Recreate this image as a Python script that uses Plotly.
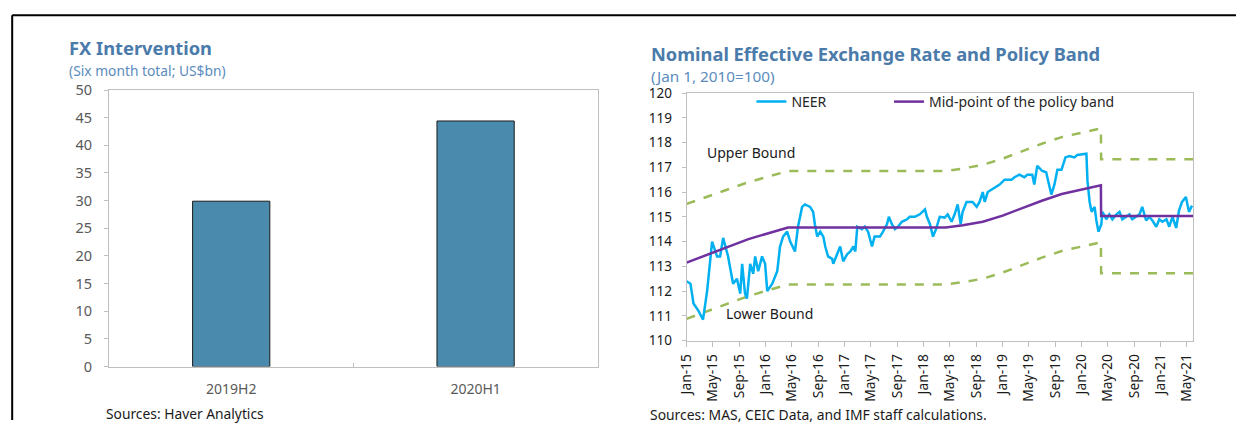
import plotly.graph_objects as go
from plotly.subplots import make_subplots

# ---------------- Data ----------------
# Left: FX intervention (six-month total, US$bn)
fx_periods = ["2019H2", "2020H1"]
fx_values = [29.9, 44.4]

# Right: NEER (Jan 1, 2010 = 100)
neer_dates = [
    "2015-01-01", "2015-01-19", "2015-02-02", "2015-02-25", "2015-03-18", "2015-04-06",
    "2015-04-29", "2015-05-22", "2015-06-05", "2015-06-19", "2015-07-12", "2015-08-04",
    "2015-08-22", "2015-09-06", "2015-09-15", "2015-09-28", "2015-10-07", "2015-10-22",
    "2015-11-05", "2015-11-14", "2015-11-28", "2015-12-16", "2015-12-30", "2016-01-09",
    "2016-02-01", "2016-02-24", "2016-03-08", "2016-03-22", "2016-04-10", "2016-04-24",
    "2016-05-16", "2016-05-30", "2016-06-18", "2016-07-01", "2016-07-25", "2016-08-08",
    "2016-08-16", "2016-08-27", "2016-09-10", "2016-09-24", "2016-10-03", "2016-10-16",
    "2016-11-04", "2016-11-09", "2016-11-27", "2016-12-11", "2016-12-25", "2017-01-13",
    "2017-01-27", "2017-02-10", "2017-02-19", "2017-02-28", "2017-03-21", "2017-04-04",
    "2017-04-19", "2017-05-07", "2017-05-19", "2017-06-13", "2017-06-27", "2017-07-15",
    "2017-07-24", "2017-08-07", "2017-08-21", "2017-09-04", "2017-09-22", "2017-10-16",
    "2017-10-28", "2017-11-21", "2017-12-14", "2018-01-07", "2018-01-16", "2018-01-30",
    "2018-02-13", "2018-02-27", "2018-03-16", "2018-04-08", "2018-04-22", "2018-05-10",
    "2018-05-24", "2018-06-07", "2018-06-21", "2018-06-30", "2018-07-18", "2018-08-01",
    "2018-08-15", "2018-09-03", "2018-09-16", "2018-10-01", "2018-10-10", "2018-10-24",
    "2018-11-12", "2018-11-25", "2018-12-18", "2019-01-10", "2019-01-25", "2019-02-11",
    "2019-02-25", "2019-03-19", "2019-04-11", "2019-04-25", "2019-05-18", "2019-05-27",
    "2019-06-10", "2019-07-03", "2019-07-21", "2019-08-14", "2019-08-28", "2019-09-11",
    "2019-09-30", "2019-10-18", "2019-11-06", "2019-11-28", "2019-12-12", "2020-01-05",
    "2020-01-23", "2020-01-28", "2020-02-07", "2020-02-16", "2020-03-01", "2020-03-09",
    "2020-03-19", "2020-04-01", "2020-04-06", "2020-04-24", "2020-05-08", "2020-05-22",
    "2020-06-10", "2020-06-24", "2020-07-07", "2020-07-25", "2020-08-09", "2020-08-22",
    "2020-09-10", "2020-09-24", "2020-10-07", "2020-10-25", "2020-11-09", "2020-11-23",
    "2020-12-11", "2020-12-25", "2021-01-08", "2021-01-27", "2021-02-09", "2021-02-24",
    "2021-03-13", "2021-03-26", "2021-04-09", "2021-04-27", "2021-05-11", "2021-05-25",
]
neer_values = [
    112.4, 112.3, 111.5, 111.2, 110.85, 112.0,
    114.0, 113.4, 113.4, 114.15, 113.4, 112.3,
    112.5, 111.9, 113.1, 111.9, 111.7, 113.1,
    112.7, 113.4, 112.8, 113.4, 113.1, 112.0,
    112.3, 112.8, 113.8, 114.2, 114.4, 114.0,
    113.6, 114.6, 115.4, 115.5, 115.4, 115.2,
    114.7, 114.2, 114.4, 114.2, 113.8, 113.4,
    113.3, 113.1, 113.5, 113.8, 113.2, 113.5,
    113.6, 113.8, 113.6, 114.6, 114.5, 114.6,
    114.4, 113.8, 114.2, 114.2, 114.4, 114.7,
    115.0, 114.7, 114.5, 114.6, 114.8, 114.9,
    115.0, 115.0, 115.1, 115.3, 115.0, 114.7,
    114.2, 114.5, 115.0, 114.97, 115.1, 114.8,
    115.1, 115.5, 114.7, 115.2, 115.6, 115.6,
    115.6, 115.4, 115.6, 116.0, 115.6, 116.0,
    116.1, 116.2, 116.3, 116.5, 116.5, 116.5,
    116.6, 116.7, 116.6, 116.7, 116.7, 116.3,
    117.06, 116.85, 116.8, 115.9, 116.3, 116.9,
    116.9, 117.4, 117.45, 117.4, 117.5, 117.54,
    117.55, 116.45, 115.6, 115.2, 115.4, 114.85,
    114.4, 114.7, 115.2, 114.9, 115.1, 114.9,
    115.1, 115.2, 114.9, 115.0, 115.1, 114.9,
    115.0, 115.1, 115.4, 114.85, 115.0, 114.85,
    114.6, 114.9, 114.8, 114.9, 114.6, 115.0,
    114.55, 115.25, 115.6, 115.8, 115.2, 115.45,
]

# Policy band (mid-point, upper and lower bounds)
band_dates = [
    "2015-01-01", "2015-10-14", "2016-04-14", "2018-04-13", "2018-07-01",
    "2018-10-01", "2019-01-01", "2019-04-01", "2019-07-01", "2019-10-01",
    "2020-01-01", "2020-03-30", "2020-03-31", "2021-05-31",
]
mid_values = [
    113.15, 114.1, 114.57, 114.57, 114.66,
    114.8, 115.05, 115.35, 115.65, 115.92,
    116.1, 116.27, 115.03, 115.03,
]
upper_values = [
    115.52, 116.4, 116.85, 116.85, 116.95,
    117.1, 117.35, 117.65, 117.95, 118.22,
    118.4, 118.57, 117.32, 117.32,
]
lower_values = [
    110.88, 111.8, 112.27, 112.27, 112.36,
    112.5, 112.75, 113.05, 113.35, 113.62,
    113.8, 113.97, 112.72, 112.72,
]

# ---------------- Layout helpers ----------------
W, H = 1238, 429
# the photographed page shows the figure slightly offset and scaled;
# positions below are given in target-picture pixels and mapped back.
SX, OX = 0.992, 8.8
SY, OY = 0.955, 10.3


def PX(X):
    return (X / SX - OX) / W


def PY(Y, cap=None):
    y = Y / SY - OY
    if cap is not None:
        y = min(y, cap)
    return 1 - y / H


FONT = "Noto Sans"
TITLE_BLUE = "#4A7BAA"
SUB_BLUE = "#5B8CBD"
AXIS_GREY = "#BFBFBF"

fig = make_subplots(rows=1, cols=2)

fig.add_trace(go.Bar(
    x=fx_periods, y=fx_values, width=0.316,
    marker=dict(color="#4A8BAD", line=dict(color="#1A1A1A", width=1)),
    showlegend=False,
), row=1, col=1)

fig.add_trace(go.Scatter(
    x=band_dates, y=upper_values, mode="lines",
    line=dict(color="#9BBB59", width=2.5, dash="dash"), showlegend=False,
), row=1, col=2)
fig.add_trace(go.Scatter(
    x=band_dates, y=lower_values, mode="lines",
    line=dict(color="#9BBB59", width=2.5, dash="dash"), showlegend=False,
), row=1, col=2)
fig.add_trace(go.Scatter(
    x=neer_dates, y=neer_values, mode="lines", name="NEER",
    line=dict(color="#00B0F0", width=2.5), legend="legend",
), row=1, col=2)
fig.add_trace(go.Scatter(
    x=band_dates, y=mid_values, mode="lines", name="Mid-point of the policy band",
    line=dict(color="#7030A0", width=2.5), legend="legend2",
), row=1, col=2)

legend_common = dict(
    orientation="h", yanchor="middle", xanchor="left",
    bgcolor="rgba(0,0,0,0)", font=dict(size=14, color="#262626"),
    itemwidth=30,
)

fig.update_layout(
    width=W, height=H,
    margin=dict(l=0, r=0, t=0, b=0),
    paper_bgcolor="white", plot_bgcolor="white",
    font=dict(family=FONT, size=13, color="#262626"),
    legend=dict(x=PX(751), y=PY(101), **legend_common),
    legend2=dict(x=PX(889), y=PY(101), **legend_common),
    xaxis=dict(
        domain=[PX(107), PX(597)], type="category",
        showline=True, linecolor=AXIS_GREY, linewidth=1, mirror=True,
        ticks="inside", tickson="boundaries", ticklen=4, tickcolor=AXIS_GREY,
        tickfont=dict(size=14, color="#595959"), showgrid=False,
        ticklabelstandoff=10, range=[-0.5, 1.5],
    ),
    yaxis=dict(
        domain=[PY(366), PY(89)], range=[0, 50], dtick=5,
        showline=True, linecolor=AXIS_GREY, linewidth=1, mirror=True,
        ticks="outside", ticklen=4, tickcolor=AXIS_GREY, ticklabelstandoff=9,
        tickfont=dict(size=14.5, color="#595959"), showgrid=False, zeroline=False,
    ),
    xaxis2=dict(
        domain=[PX(686), PX(1194)], type="date",
        range=["2015-01-01", "2021-05-31"],
        tick0="2015-01-01", dtick="M4", tickformat="%b-%y", tickangle=-90,
        showline=True, linecolor=AXIS_GREY, linewidth=1, mirror=True,
        ticks="outside", ticklen=5, tickcolor=AXIS_GREY, ticklabelstandoff=2,
        tickfont=dict(size=13.8, color="#1A1A1A"), showgrid=False,
    ),
    yaxis2=dict(
        domain=[PY(340), PY(92)], range=[110, 120], dtick=1,
        showline=True, linecolor=AXIS_GREY, linewidth=1, mirror=True,
        ticks="outside", ticklen=4, tickcolor=AXIS_GREY, ticklabelstandoff=7,
        tickfont=dict(size=13.5, color="#1A1A1A"), showgrid=False, zeroline=False,
    ),
)

annotations = [
    dict(text="<b>FX Intervention</b>", x=PX(65), y=PY(46), xref="paper", yref="paper",
         xanchor="left", yanchor="middle", showarrow=False,
         font=dict(size=18.3, color=TITLE_BLUE)),
    dict(text="(Six month total; US$bn)", x=PX(65), y=PY(69), xref="paper", yref="paper",
         xanchor="left", yanchor="middle", showarrow=False,
         font=dict(size=13.8, color=SUB_BLUE)),
    dict(text="Sources: Haver Analytics", x=PX(102), y=PY(413, cap=423), xref="paper",
         yref="paper", xanchor="left", yanchor="middle", showarrow=False,
         font=dict(size=13.8, color="#1A1A1A")),
    dict(text="<b>Nominal Effective Exchange Rate and Policy Band</b>", x=PX(648), y=PY(52),
         xref="paper", yref="paper", xanchor="left", yanchor="middle", showarrow=False,
         font=dict(size=18.3, color=TITLE_BLUE)),
    dict(text="(Jan 1, 2010=100)", x=PX(648), y=PY(75), xref="paper", yref="paper",
         xanchor="left", yanchor="middle", showarrow=False,
         font=dict(size=15.3, color=SUB_BLUE)),
    dict(text="Sources: MAS, CEIC Data, and IMF staff calculations.", x=PX(647),
         y=PY(419, cap=423.5), xref="paper", yref="paper", xanchor="left",
         yanchor="middle", showarrow=False,
         font=dict(size=13.9, color="#1A1A1A")),
    dict(text="Upper Bound", x="2015-10-27", y=117.58, xref="x2", yref="y2",
         xanchor="center", yanchor="middle", showarrow=False,
         font=dict(size=14, color="#1A1A1A")),
    dict(text="Lower Bound", x="2016-01-19", y=111.09, xref="x2", yref="y2",
         xanchor="center", yanchor="middle", showarrow=False,
         font=dict(size=14, color="#1A1A1A")),
]
fig.update_layout(annotations=annotations)

# page frame
fig.add_shape(type="line", xref="paper", yref="paper", x0=1.2 / W, x1=1, y0=PY(14), y1=PY(14),
              line=dict(color="black", width=2))
fig.add_shape(type="line", xref="paper", yref="paper", x0=1.2 / W, x1=1.2 / W, y0=0, y1=PY(14),
              line=dict(color="black", width=2))

fig.write_html(
    "out.html",
    config={"displayModeBar": False},
    post_script="document.body.style.margin='0';"
                "document.documentElement.style.overflow='hidden';"
                "document.body.style.overflow='hidden';",
)
